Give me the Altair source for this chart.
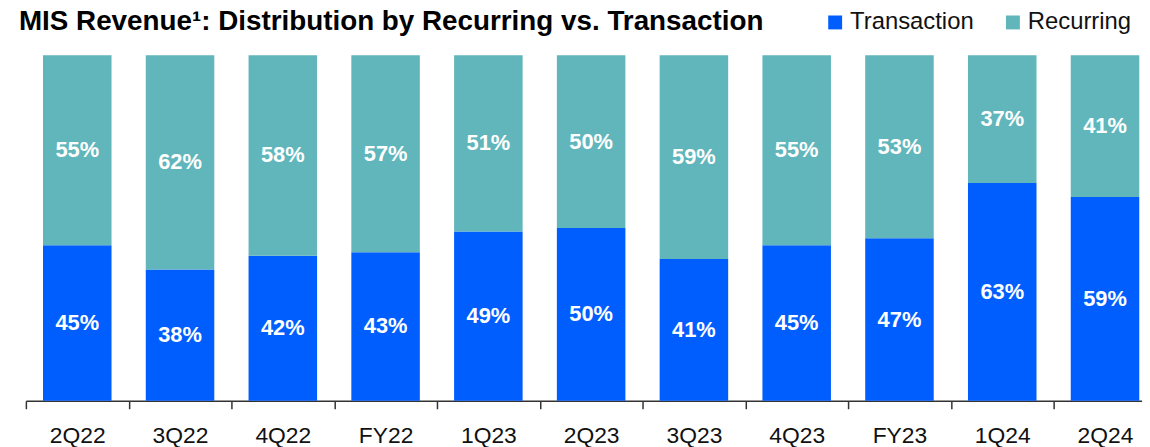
import altair as alt
import pandas as pd

periods = ["2Q22", "3Q22", "4Q22", "FY22", "1Q23", "2Q23", "3Q23", "4Q23", "FY23", "1Q24", "2Q24"]
transaction = [45, 38, 42, 43, 49, 50, 41, 45, 47, 63, 59]
recurring = [55, 62, 58, 57, 51, 50, 59, 55, 53, 37, 41]
series = ["Transaction", "Recurring"]
colors = ["#005EFF", "#60B6BB"]

rows = []
for i, p in enumerate(periods):
    rows.append({"period": p, "type": "Transaction", "ord": 0, "value": transaction[i]})
    rows.append({"period": p, "type": "Recurring", "ord": 1, "value": recurring[i]})
df = pd.DataFrame(rows)
df["label"] = df["value"].astype(str) + "%"

FONT = "Liberation Sans"

x = alt.X(
    "period:N",
    sort=periods,
    scale=alt.Scale(range=[0, 1138.5], paddingInner=0, paddingOuter=0),
    axis=alt.Axis(
        title=None,
        labelAngle=0,
        tickBand="extent",
        tickSize=8,
        tickWidth=1.5,
        tickColor="#333333",
        domainColor="#333333",
        domainWidth=1.5,
        labelFont=FONT,
        labelFontSize=23,
        labelColor="#111111",
        labelPadding=16,
        grid=False,
    ),
)

base = (
    alt.Chart(df)
    .transform_stack(
        stack="value",
        groupby=["period"],
        as_=["v0", "v1"],
        sort=[alt.SortField("ord", order="ascending")],
    )
    .transform_calculate(mid="(datum.v0 + datum.v1) / 2")
)

yscale = alt.Scale(domain=[0, 100], nice=False, zero=True)

bars = base.mark_bar(width=alt.RelativeBandSize(0.6667)).encode(
    x=x,
    y=alt.Y("v0:Q", scale=yscale, axis=None),
    y2="v1:Q",
    color=alt.Color(
        "type:N",
        scale=alt.Scale(domain=series, range=colors),
        legend=alt.Legend(
            title=None,
            orient="none",
            legendX=803,
            legendY=-45,
            direction="horizontal",
            symbolType="square",
            symbolSize=196,
            symbolStrokeWidth=0,
            symbolOpacity=1,
            labelFont=FONT,
            labelFontSize=24,
            labelColor="#111111",
            labelOffset=3,
            columnPadding=27,
            padding=0,
        ),
    ),
)

text = base.mark_text(
    font=FONT, fontSize=22, fontWeight="bold", color="white", baseline="middle"
).encode(
    x=x,
    y=alt.Y("mid:Q", scale=yscale, axis=None),
    text="label:N",
)

chart = (
    alt.layer(bars, text)
    .properties(
        width=1124,
        height=348,
        autosize=alt.AutoSizeParams(type="none"),
        padding={"left": 18, "top": 46, "right": 0, "bottom": 45},
        title=alt.TitleParams(
            text="MIS Revenue\u00b9: Distribution by Recurring vs. Transaction",
            anchor="start",
            frame="group",
            font=FONT,
            fontSize=28,
            fontWeight="bold",
            color="#000000",
            baseline="alphabetic",
            dx=-7,
            dy=52,
        ),
    )
    .configure_view(stroke=None)
)

chart.save("out.html", embed_options={"renderer": "svg", "actions": False})
